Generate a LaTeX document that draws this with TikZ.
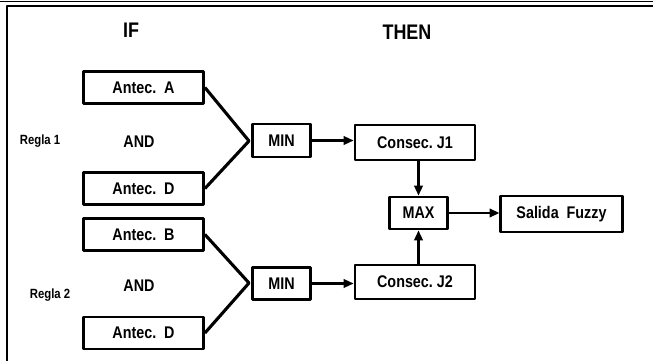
\documentclass[tikz,border=0pt]{standalone}
\usepackage{fontspec}
\setmainfont{Liberation Sans}[FakeStretch=0.85]
\usetikzlibrary{arrows.meta,positioning}

\begin{document}
\begin{tikzpicture}[x=0.025cm, y=-0.025cm, line join=round,
  box/.style={draw, line width=2pt, inner sep=0pt,
    font=\bfseries\fontsize{12}{14}\selectfont},
  antbox/.style={box, minimum width=3cm, minimum height=0.8cm},
  opbox/.style={box, minimum width=1.45cm, minimum height=0.8cm},
  lbl/.style={font=\bfseries\fontsize{#1}{#1}\selectfont},
  arr/.style={line width=1.5pt, -{Triangle[length=7pt,width=6pt]}}]
\useasboundingbox (0,0) rectangle (653,361);
% frame
\draw[line width=1.4pt] (7,361) -- (7,6) -- (653,6);
\draw[line width=0.7pt] (0,1) -- (653,1);
% headers
\node[lbl=15] (hif) at (131,30) {IF};
\node[lbl=15] (hthen) at (407,32) {THEN};
% rule 1
\node[lbl=9.5] (r1) at (40,141) {Regla 1};
\node[lbl=12] (and1) at (139,142) {AND};
\node[antbox] (antA) at (143.5,87.5) {Antec.\ \ A};
\node[antbox] (antD1) at (143.5,188.5) {Antec.\ \ D};
\node[opbox, minimum height=0.825cm] (min1) at (281.5,140.5) {MIN};
\coordinate (apex1) at (249,141);
\draw[line width=2.2pt] (antA.east) -- (apex1) -- (antD1.east);
% rule 2
\node[lbl=9.5] (r2) at (50,295) {Regla 2};
\node[lbl=12] (and2) at (139,286) {AND};
\node[antbox] (antB) at (143.5,234.5) {Antec.\ \ B};
\node[antbox] (antD2) at (143.5,333) {Antec.\ \ D};
\node[opbox] (min2) at (281.5,283.5) {MIN};
\coordinate (apex2) at (249,283);
\draw[line width=2.2pt] (antB.east) -- (apex2) -- (antD2.east);
% consequents
\node[antbox, minimum height=0.875cm] (conJ1) at (415,142.5) {Consec.\ J1};
\node[antbox, minimum height=0.85cm] (conJ2) at (415,282) {Consec.\ J2};
\node[opbox] (max) at (418.5,213) {MAX};
\node[antbox, minimum width=3.03cm, minimum height=0.9cm] (out) at (561.5,214) {Salida\ \ Fuzzy};
\draw[arr] (min1.east) -- (min1.east -| conJ1.west);
\draw[arr] (min2.east) -- (min2.east -| conJ2.west);
\draw[arr] (conJ1.south -| max) -- (max.north);
\draw[arr] (conJ2.north -| max) -- (max.south);
\draw[arr] (max.east) -- (max.east -| out.west);
\end{tikzpicture}
\end{document}
